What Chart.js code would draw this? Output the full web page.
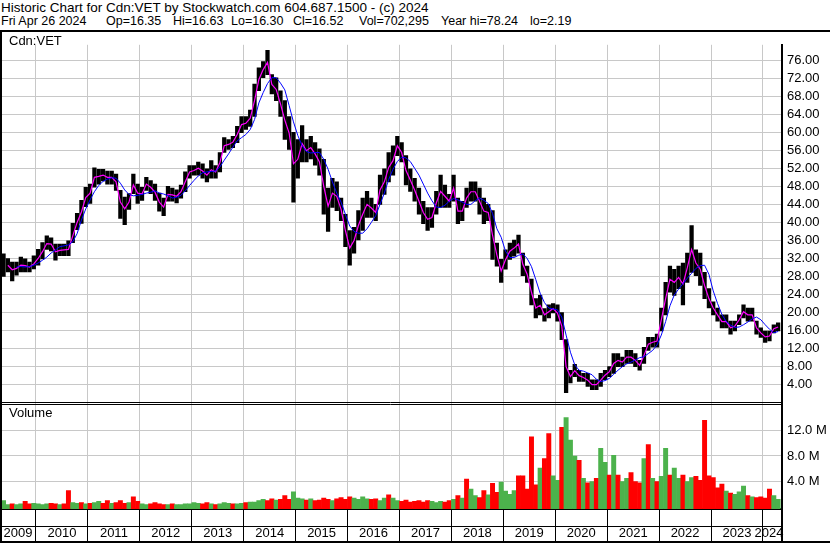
<!DOCTYPE html>
<html>
<head>
<meta charset="utf-8">
<title>Historic Chart for Cdn:VET</title>
<script src="https://cdn.jsdelivr.net/npm/chart.js@4.4.1/dist/chart.umd.min.js"></script>
<style>
    body { margin: 0; background: #ffffff; }
    #page { position: relative; width: 830px; height: 543px; overflow: hidden; background: #ffffff;
            font-family: "Liberation Sans", Arial, sans-serif; color: #000000; }
    .txt { position: absolute; font-size: 13.5px; line-height: 15px; white-space: pre; }
    .txt2 { position: absolute; font-size: 12.5px; line-height: 15px; white-space: pre; top: 14px; }
    .lbl { position: absolute; font-size: 13px; line-height: 15px; white-space: pre; }
    .rule { position: absolute; background: #000000; }
    #chartBox { position: absolute; left: 0; top: 32px; width: 830px; height: 511px; }
</style>
</head>
<body>
<div id="page">

    <div class="txt" style="left:1px;top:0px">Historic Chart for Cdn:VET by Stockwatch.com 604.687.1500 - (c) 2024</div>
    <div class="txt2" style="left:1px">Fri Apr 26 2024</div>
    <div class="txt2" style="left:106px">Op=16.35</div>
    <div class="txt2" style="left:173px">Hi=16.63</div>
    <div class="txt2" style="left:231px">Lo=16.30</div>
    <div class="txt2" style="left:293px">Cl=16.52</div>
    <div class="txt2" style="left:359px">Vol=702,295</div>
    <div class="txt2" style="left:441px">Year hi=78.24</div>
    <div class="txt2" style="left:530px">lo=2.19</div>

    <div id="chartBox"><canvas id="histChart" width="830" height="511"></canvas></div>

    <div class="rule" style="left:0;top:30px;width:830px;height:2px"></div>
    <div class="rule" style="left:0;top:30px;width:2px;height:513px"></div>
    <div class="rule" style="left:0;top:541px;width:830px;height:2px"></div>
    <div class="rule" style="left:781px;top:509px;width:2px;height:34px"></div>

    <div class="lbl" style="left:9px;top:33px">Cdn:VET</div>
    <div class="lbl" style="left:9px;top:405px">Volume</div>
</div>

<script>
// ======================================================
// DATA  - one entry per month, May 2009 .. Apr 2024
// (each row = May .. Apr)
// ======================================================
const firstYear = 2009;
const firstMonth = 5;

const priceLow = [
    28, 29, 27, 28.3, 29, 29, 29, 29.7, 30.5, 31.9, 34, 33.7,
    31.6, 32.6, 32.6, 32.6, 35.5, 38.4, 39.8, 43.5, 44.2, 47.8, 48.5, 49.2,
    48.5, 48.5, 47.1, 40.9, 39.5, 42.9, 46.4, 44.2, 44.9, 47.1, 46.4, 44.9,
    42.5, 41.5, 44.7, 44.7, 44.3, 45.4, 46.8, 49.8, 50.5, 50.5, 49.8, 49,
    49.8, 49.8, 51.2, 55.5, 56.2, 56.6, 57.7, 59.9, 60.6, 61.3, 63.5, 69.2,
    72.1, 72.8, 68.5, 67, 63.5, 58.4, 56.2, 44.5, 49.8, 53.4, 53.4, 54.1,
    52.7, 50.5, 41.8, 38, 43.3, 42.6, 40.4, 34.6, 30.5, 33.2, 36.1, 38.2,
    41.1, 41.1, 40.4, 44, 46.2, 49, 50.5, 54.8, 53.4, 48.3, 46.9, 44.7,
    41.8, 39.7, 38.2, 38.9, 41.8, 43.3, 43.3, 43.3, 44.7, 39.7, 40.4, 43.3,
    44.7, 44.7, 41.8, 39.7, 40.4, 31.8, 30.3, 26.7, 29.6, 31.8, 32.5, 33.2,
    28.2, 26.7, 21.7, 18.8, 19.5, 18.1, 18.8, 19.9, 18.1, 14, 2.2, 4.4,
    5.8, 4.7, 4.7, 3.6, 2.9, 2.9, 3.6, 5.1, 5.8, 6.5, 8, 8,
    8.7, 8.7, 8, 7.2, 8.7, 11.6, 12.3, 12.3, 15.9, 19.5, 24.5, 23.8,
    25.3, 21.7, 26.7, 28.9, 28.2, 26, 23.1, 21, 19.5, 18.1, 16.6, 16.6,
    15.2, 15.9, 17.3, 18.8, 18.1, 18.1, 15.2, 14.5, 13.4, 13.7, 15.5, 15.9
];

const priceHigh = [
    33, 32, 31.2, 31.2, 32.3, 31.9, 31.2, 32.6, 34, 35.5, 37, 36.6,
    35.2, 35.2, 35.2, 35.9, 39.8, 42, 44.9, 47.8, 48.5, 52.1, 51.8, 51.8,
    51.4, 51.4, 50.7, 47.1, 45.6, 46.4, 50.7, 48.5, 47.8, 50, 49.3, 48.5,
    46.5, 45.4, 48, 47.6, 47.2, 48.3, 51.2, 52.6, 52.6, 53.4, 53, 51.9,
    53.7, 52.6, 55.5, 58.8, 58.4, 59.1, 61.3, 63.5, 63.5, 64.9, 70.7, 74.3,
    75.7, 78.2, 72.8, 72.1, 69.2, 67, 63.5, 60, 58.4, 61.5, 58.4, 59.1,
    57.7, 56.3, 54, 47.6, 49.8, 49, 45.4, 41.8, 38.2, 38.9, 42.6, 45.4,
    46.9, 45.4, 44, 50.5, 51.9, 55.5, 57, 59.1, 57.7, 54.8, 51.9, 49.8,
    47.6, 44.7, 43.3, 43.3, 46.9, 50.5, 48.3, 46.2, 50.5, 45.4, 44.7, 47.6,
    49, 49, 47.6, 45.4, 44, 42.6, 35.4, 31.8, 33.9, 35.4, 36.1, 37.2,
    33.2, 30.3, 27.4, 23.1, 23.8, 20.9, 21.7, 22, 21.7, 20, 14, 7.2,
    8.5, 7.2, 6.5, 6.5, 5.1, 5.1, 6.5, 7.2, 8, 10.9, 10.9, 10.1,
    11.6, 11.6, 10.9, 9.4, 12.3, 14.5, 14.5, 15.2, 21, 26.7, 30.3, 29.6,
    30.3, 31, 33.2, 39.3, 33.9, 33.2, 28.9, 25.3, 22.4, 21, 19.5, 19.5,
    18.1, 18.1, 19.5, 21.7, 21, 21, 18.1, 16.6, 15.9, 15.9, 17.3, 17.7
];

// short moving average (magenta)
const maFast = [
    null, 30.5, 29.5, 29.8, 30.5, 30.4, 30.1, 30.8, 32, 33.5, 35.3, 35.2,
    33.5, 33.8, 33.9, 34, 37, 40, 42.3, 45.5, 46.5, 50, 50.2, 50.5,
    50, 50, 49, 44.5, 43, 44.5, 48.3, 46.5, 46.3, 48.5, 47.8, 46.7,
    44.5, 43.4, 46.2, 46.1, 45.8, 46.8, 49, 51.2, 51.5, 52, 51.4, 50.5,
    51.7, 51.2, 53.3, 57, 57.3, 57.8, 59.5, 61.7, 62, 63.1, 67, 71.7,
    73.9, 75.5, 70.6, 69.5, 66.3, 62.7, 59.8, 53, 54, 57.5, 55.9, 56.6,
    55.2, 53.4, 48, 43.6, 46.5, 45.8, 42.9, 38.2, 34.3, 36, 39.3, 41.8,
    44, 43.2, 42.2, 47.2, 49, 52.2, 53.7, 57, 55.5, 51.5, 49.4, 47.2,
    44.7, 42.2, 40.7, 41.1, 44.3, 46.9, 45.8, 44.7, 47.6, 42.5, 42.5, 45.4,
    46.8, 46.8, 44.7, 42.5, 42.2, 37.2, 32.8, 29.2, 31.7, 33.6, 34.3, 35.2,
    30.7, 28.5, 24.5, 21, 21.6, 19.5, 20.2, 20.9, 19.9, 17, 8, 5.8,
    7.1, 6, 5.6, 5, 4, 4, 5, 6.1, 6.9, 8.7, 9.4, 9,
    10.1, 10.1, 9.4, 8.3, 10.5, 13, 13.4, 13.7, 18.4, 23.1, 27.4, 26.7,
    27.8, 26.3, 29.9, 34, 31, 29.6, 26, 23.1, 21, 19.5, 18, 18,
    16.6, 17, 18.4, 20.2, 19.5, 19.5, 16.6, 15.5, 14.6, 14.8, 16.4, 16.8
];

// long moving average (blue)
const maSlow = [
    null, null, null, 30.1, 30.2, 30.1, 30.2, 30.5, 31.0, 31.6, 32.3, 33.2,
    33.9, 34.6, 34.8, 35.0, 35.7, 37.5, 40.5, 43.0, 45.0, 46.8, 48.2, 49.1,
    49.6, 49.9, 49.8, 48.7, 47.2, 46.2, 45.9, 46.0, 46.2, 46.5, 46.7, 47.0,
    46.5, 46.3, 45.9, 45.4, 45.6, 46.0, 47.0, 48.2, 49.3, 50.3, 51.0, 51.2,
    51.3, 51.4, 52.3, 53.8, 55.2, 56.7, 58.1, 58.8, 59.5, 60.6, 62.8, 66.5,
    68.8, 70.8, 72.1, 72.1, 70.9, 69.4, 65.9, 62.3, 59.3, 57.0, 55.7, 55.4,
    55.5, 55.5, 54.0, 51.8, 49.0, 46.5, 44.5, 41.8, 39.2, 38.0, 37.6, 37.6,
    38.6, 40.0, 41.5, 44.0, 46.5, 49.5, 51.8, 53.5, 54.5, 54.3, 53.5, 52.0,
    50.5, 48.5, 46.5, 44.8, 43.4, 43.3, 43.8, 44.7, 45.3, 45.0, 44.5, 44.0,
    44.0, 44.8, 45.4, 44.9, 44.2, 42.0, 38.6, 36.7, 33.6, 32.2, 32.2, 32.7,
    33.0, 32.0, 30.2, 27.3, 24.3, 22.2, 21.0, 20.8, 20.6, 19.0, 15.0, 11.2,
    8.4, 7.2, 7.0, 6.6, 6.2, 5.2, 4.7, 4.9, 5.4, 6.3, 7.2, 8.0,
    8.6, 9.0, 9.5, 10.0, 10.2, 10.9, 11.6, 12.8, 15.0, 18.0, 21.5, 23.9,
    25.2, 26.4, 27.6, 28.7, 29.8, 30.4, 30.5, 28.5, 24.8, 22.0, 19.6, 18.0,
    17.2, 16.7, 16.8, 17.3, 17.9, 18.6, 19.0, 18.4, 17.3, 16.3, 15.5, 15.8
];

// volume, millions of shares
const volumeM = [
    1.0, 0.4, 0.5, 0.4, 0.5, 0.9, 0.5, 0.6, 0.5, 0.4, 0.5, 0.6,
    0.5, 0.4, 0.5, 2.6, 0.7, 0.6, 0.7, 0.5, 0.6, 0.7, 0.9, 0.6,
    1.0, 0.6, 0.7, 1.0, 0.6, 0.7, 1.6, 0.9, 0.5, 0.4, 0.5, 0.7,
    0.5, 0.4, 0.4, 0.5, 0.4, 0.4, 0.5, 0.5, 0.7, 0.6, 0.5, 0.7,
    0.5, 0.4, 0.5, 0.7, 0.6, 0.5, 0.5, 0.6, 0.7, 0.8, 0.8, 1.0,
    1.2, 1.0, 1.3, 1.1, 1.2, 1.8, 1.2, 2.4, 1.4, 1.3, 1.1, 1.3,
    1.0, 1.1, 1.4, 1.2, 1.0, 1.3, 1.5, 1.2, 1.6, 1.4, 1.2, 1.6,
    1.3, 1.2, 1.3, 1.0, 1.4, 1.9, 1.4, 1.0, 0.9, 1.1, 0.8, 0.9,
    1.0, 0.8, 1.0, 0.9, 0.7, 0.9, 0.8, 1.0, 1.2, 1.8, 1.4, 4.4,
    2.8, 1.8, 1.5, 2.6, 1.9, 3.7, 2.3, 3.9, 2.5, 2.0, 2.6, 4.9,
    4.9, 2.8, 11.0, 3.5, 6.1, 7.6, 11.5, 4.9, 4.2, 12.5, 14.0, 10.5,
    8.0, 7.3, 4.5, 3.8, 4.0, 4.5, 9.2, 7.0, 5.0, 8.1, 5.0, 4.0,
    4.5, 5.4, 4.0, 3.8, 7.6, 9.8, 4.5, 4.0, 4.8, 9.2, 5.0, 6.1,
    4.5, 5.0, 4.0, 4.6, 4.8, 4.2, 13.6, 4.9, 4.6, 3.0, 3.6, 2.5,
    2.2, 2.0, 2.4, 3.3, 1.8, 1.6, 1.5, 1.6, 1.4, 2.8, 1.8, 1.2
];

// u = period closed up, d = period closed down
const volumeDir = [
    "uuduudduuuud", "dudduududuud", "dudddudduudd", "dduduuuuuudd", "uduuuduuduuu",
    "udduddduuudu", "ddddudddduuu", "udduuduudddd", "ddduuuddudud", "uuddudduuuud",
    "ddddudduuduu", "udududuududu", "udddududuudu", "uduudddddddu", "duuududddduu"
].join("");

const yearLabels = ["2009", "2010", "2011", "2012", "2013", "2014", "2015", "2016",
                    "2017", "2018", "2019", "2020", "2021", "2022", "2023", "2024"];

const priceTicks = [4, 8, 12, 16, 20, 24, 28, 32, 36, 40, 44, 48, 52, 56, 60, 64, 68, 72, 76];
const volumeTicks = [4, 8, 12];


// ======================================================
// AXIS RANGES
// ======================================================
const xStart = 2009.307;     // Apr 22 2009
const xEnd = 2024.366;
const priceMax = 79.4;
const volMin = -0.3;
const volMax = 16.34;
const volFrame = 16;         // top edge line of the volume pane

const GRID = "#c8c8c8";
const UP_GREEN = "#4cb24c";
const DOWN_RED = "#ff0000";

Chart.defaults.font.family = '"Liberation Sans", Arial, sans-serif';
Chart.defaults.font.size = 13;
Chart.defaults.color = "#000000";

function monthTime(i) {
    return firstYear + (firstMonth - 1 + i + 0.5) / 12;
}

const rangeData = priceLow.map((lo, i) => ({ x: monthTime(i), y: [lo, priceHigh[i]] }));
const fastData = maFast.map((v, i) => ({ x: monthTime(i), y: v }));
const slowData = maSlow.map((v, i) => ({ x: monthTime(i), y: v }));
const volData = volumeM.map((v, i) => ({ x: monthTime(i), y: v }));
const volColors = volumeM.map((v, i) => volumeDir[i] === "u" ? UP_GREEN : DOWN_RED);

// centre of each year's slot along the bottom axis
const yearCentres = yearLabels.map(y => {
    const a = Math.max(Number(y), xStart);
    const b = Math.min(Number(y) + 1, xEnd);
    return Math.min(Math.max((a + b) / 2, xStart + 0.3), xEnd - 0.25);
});


// ======================================================
// CHART
// ======================================================
new Chart(document.getElementById("histChart"), {

    data: {
        datasets: [
            {
                type: "line",
                data: slowData,
                xAxisID: "x",
                yAxisID: "y",
                borderColor: "#0000ff",
                borderWidth: 1,
                pointRadius: 0,
                order: 0
            },
            {
                type: "line",
                data: fastData,
                xAxisID: "x",
                yAxisID: "y",
                borderColor: "#ff00ff",
                borderWidth: 1.2,
                pointRadius: 0,
                order: 1
            },
            {
                type: "bar",
                data: rangeData,
                xAxisID: "x",
                yAxisID: "y",
                backgroundColor: "#000000",
                barThickness: 3.6,
                grouped: false,
                order: 2
            },
            {
                type: "bar",
                data: volData,
                xAxisID: "x",
                yAxisID: "yv",
                backgroundColor: volColors,
                barThickness: 4.3,
                grouped: false,
                base: volMin,
                order: 3
            }
        ]
    },

    options: {
        responsive: false,
        devicePixelRatio: 1,
        animation: false,
        layout: { padding: { top: 1, right: 0, bottom: 2, left: 0 } },

        plugins: {
            legend: { display: false },
            tooltip: { enabled: false }
        },

        scales: {

            x: {
                type: "linear",
                position: "bottom",
                offset: false,
                min: xStart,
                max: xEnd,
                afterBuildTicks: s => {
                    s.ticks = yearLabels.slice(1).map(y => ({ value: Number(y) }));
                },
                afterFit: s => { s.height = 17; },
                ticks: { display: false },
                grid: { offset: false, color: GRID, tickColor: "#000000", tickLength: 32, lineWidth: 1 },
                border: { color: "#000000", width: 2 }
            },

            x2: {
                type: "linear",
                position: "bottom",
                offset: false,
                min: xStart,
                max: xEnd,
                afterBuildTicks: s => {
                    s.ticks = yearCentres.map(v => ({ value: v }));
                },
                afterFit: s => { s.height = 15; },
                ticks: {
                    autoSkip: false,
                    maxRotation: 0,
                    padding: 0,
                    callback: (v, i) => yearLabels[i]
                },
                grid: { display: false, drawTicks: false, offset: false },
                border: { display: true, color: "#000000", width: 1 }
            },

            y: {
                type: "linear",
                position: "right",
                stack: "panes",
                stackWeight: 367,
                min: 0,
                max: priceMax,
                afterBuildTicks: s => {
                    s.ticks = [0].concat(priceTicks).map(v => ({ value: v }));
                },
                afterFit: s => { s.width = 48; },
                ticks: {
                    padding: 5,
                    autoSkip: false,
                    callback: v => v === 0 ? "" : v.toFixed(2)
                },
                grid: {
                    drawTicks: false,
                    color: c => c.tick && c.tick.value === 0 ? "#000000" : GRID
                },
                border: { color: "#000000", width: 2 }
            },

            yv: {
                type: "linear",
                position: "right",
                stack: "panes",
                stackWeight: 109,
                min: volMin,
                max: volMax,
                afterBuildTicks: s => {
                    s.ticks = volumeTicks.concat([volFrame]).map(v => ({ value: v }));
                },
                afterFit: s => { s.width = 48; },
                ticks: {
                    padding: 5,
                    autoSkip: false,
                    callback: v => v === volFrame ? "" : v.toFixed(1) + " M"
                },
                grid: {
                    drawTicks: false,
                    color: c => c.tick && c.tick.value === volFrame ? "#000000" : GRID
                },
                border: { color: "#000000", width: 2 }
            }
        }
    }
});
</script>
</body>
</html>
